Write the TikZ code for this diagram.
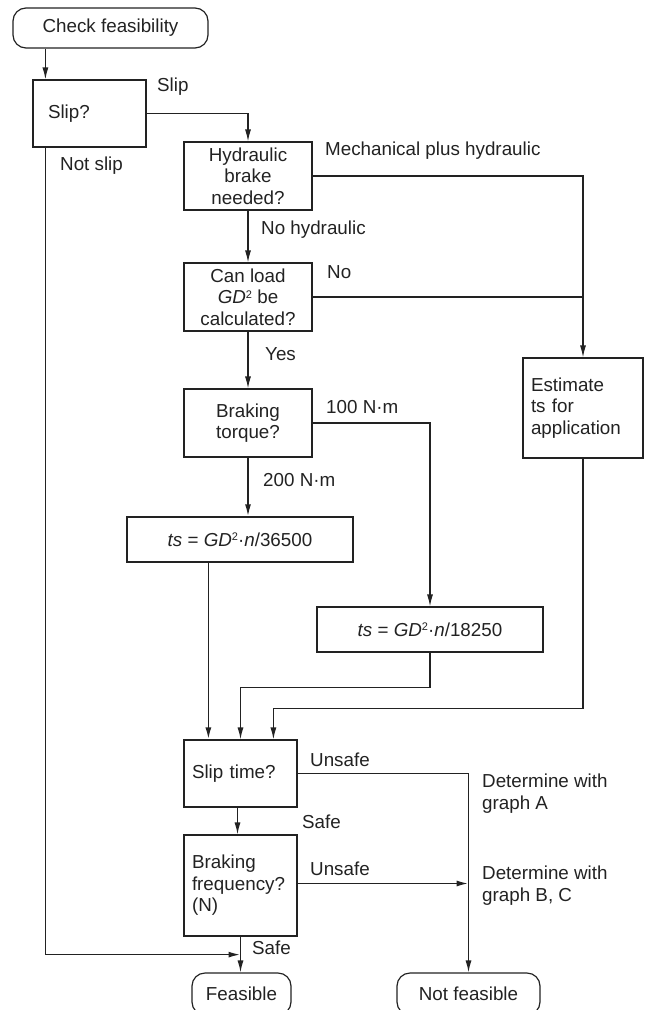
\documentclass[tikz,border=0pt]{standalone}
\usepackage{fontspec}
\setmainfont{Liberation Sans}
\usetikzlibrary{arrows.meta,calc}
\definecolor{ink}{HTML}{222222}
\newcommand{\sqr}{\raisebox{0.55ex}{\fontsize{11}{11}\selectfont 2}}
\begin{document}
\begin{tikzpicture}[x=1pt,y=-1pt,
  font=\fontsize{18.8}{21.5}\selectfont, text=ink,
  box/.style={draw=ink, line width=1.2pt, inner sep=0pt, align=center},
  term/.style={box, rounded corners=13pt},
  lbl/.style={inner sep=0pt, anchor=west, align=left},
  ln/.style={draw=ink, line width=1.2pt},
  arr/.style={draw=ink, line width=1.2pt, -{Latex[length=12pt,width=6pt]}},
  thk/.style={line width=1.7pt}]
\useasboundingbox (0,0) rectangle (649,1010);

% nodes
\node[term, minimum width=195, minimum height=40] (start) at (110.5,28) {Check feasibility};
\node[box, minimum width=113, minimum height=67, text width=83, align=left] (slip) at (89.5,113.5) {Slip?};
\node[box, minimum width=128, minimum height=68] (hyd) at (248,176) {Hydraulic\\brake\\needed?};
\node[box, minimum width=128, minimum height=68] (canload) at (248,297) {Can load\\\textit{GD}\sqr{} be\\calculated?};
\node[box, minimum width=128, minimum height=68] (torque) at (248,423) {Braking\\torque?};
\node[box, minimum width=226, minimum height=45] (ts1) at (240,539.5) {\textit{ts} = \textit{GD}\sqr·\textit{n}/36500};
\node[box, minimum width=226, minimum height=45] (ts2) at (430,629.5) {\textit{ts} = \textit{GD}\sqr·\textit{n}/18250};
\node[box, minimum width=120, minimum height=100, text width=104, align=left] (est) at (583,408) {Estimate\\ts for\\application};
\node[box, minimum width=113, minimum height=67, text width=97, align=left] (sliptime) at (240.5,773.5) {Slip time?};
\node[box, minimum width=113, minimum height=101, text width=97, align=left] (bf) at (240.5,885.5) {Braking\\frequency?\\(N)};
\node[term, minimum width=99, minimum height=42] (feas) at (241.5,994) {Feasible};
\node[term, minimum width=143, minimum height=42] (notfeas) at (468.5,994) {Not feasible};

% helper coordinates
\coordinate (a1) at ($(slip.north west)+(13,0)$);
\coordinate (c1) at ($(sliptime.north west)+(25,0)$);
\coordinate (c2) at (sliptime.north);
\coordinate (c3) at ($(sliptime.north west)+(90,0)$);
\coordinate (d1) at ($(sliptime.south)+(-3,0)$);
\coordinate (j1) at ($(bf.south)+(0,18)$);
\coordinate (b1) at ($(bf.east)+(0,-2)$);

% connectors
\draw[arr] (start.south -| a1) -- (a1);
\draw[arr] (slip.east) -| (hyd.north);
\draw[arr] (hyd.east) -| (est.north);
\draw[arr] (hyd.south) -- (canload.north);
\draw[ln] (canload.east) -- (canload.east -| est.north);
\draw[arr] (canload.south) -- (torque.north);
\draw[arr, thk] (torque.south) -- (torque.south |- ts1.north);
\draw[arr] (torque.east) -| (ts2.north);
\draw[arr, thk] (ts1.south -| c1) -- (c1);
\draw[arr] (ts2.south) |- ($(c2)+(0,-52)$) -- (c2);
\draw[arr] (est.south) |- ($(c3)+(0,-31)$) -- (c3);
\draw[arr] (d1) -- (d1 |- bf.north);
\draw[arr] (sliptime.east) -| (notfeas.north);
\draw[arr, thk] (b1) -- (b1 -| notfeas.north);
\draw[arr] (bf.south) -- (bf.south |- feas.north);
\draw[arr, thk] (slip.south -| a1) |- (j1);

% labels
\node[lbl] (l1) at (157,87) {Slip};
\node[lbl] (l2) at (60,166) {Not slip};
\node[lbl] (l3) at (325,151) {Mechanical plus hydraulic};
\node[lbl] (l4) at (261,230) {No hydraulic};
\node[lbl] (l5) at (327,272) {No};
\node[lbl] (l6) at (265,354) {Yes};
\node[lbl] (l7) at (326,407) {100 N·m};
\node[lbl] (l8) at (263,480) {200 N·m};
\node[lbl] (l9) at (310,760) {Unsafe};
\node[lbl] (l10) at (482,793.5) {Determine with\\graph A};
\node[lbl] (l11) at (302,822) {Safe};
\node[lbl] (l12) at (310,869) {Unsafe};
\node[lbl] (l13) at (482,885.5) {Determine with\\graph B, C};
\node[lbl] (l14) at (252,948) {Safe};
\end{tikzpicture}
\end{document}
